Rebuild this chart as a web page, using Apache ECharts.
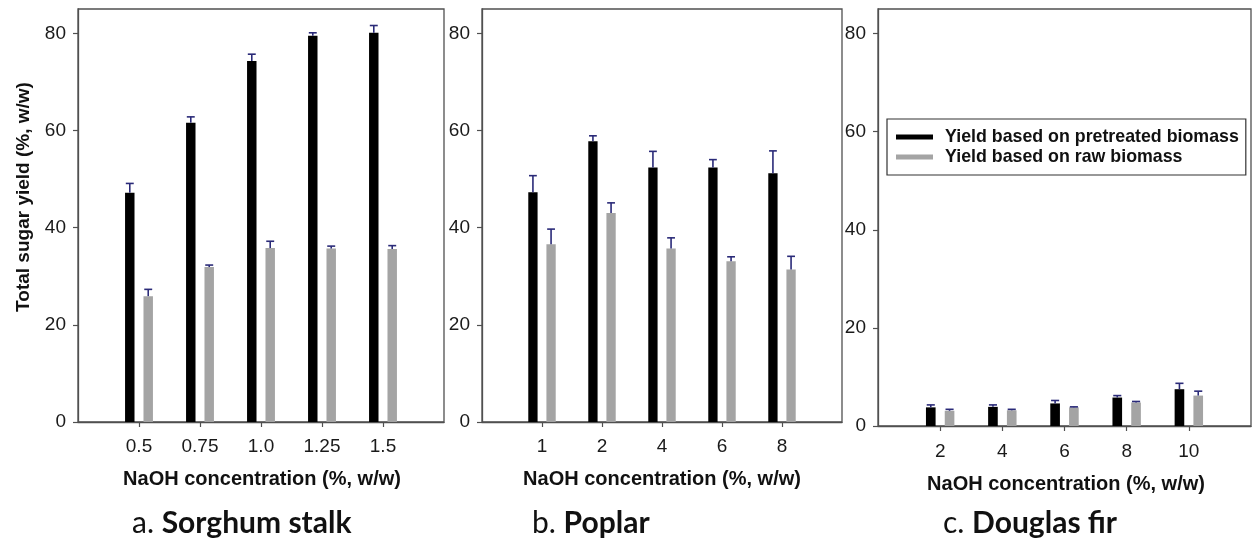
<!DOCTYPE html>
<html>
<head>
<meta charset="utf-8">
<script src="https://cdn.jsdelivr.net/npm/echarts@6/dist/echarts.min.js"></script>
<style>
html,body{margin:0;padding:0;background:#fff;}
#chart{width:1254px;height:544px;}
</style>
</head>
<body>
<div id="chart"></div>
<script>
// ---- data ----
const catsA = ['0.5', '0.75', '1.0', '1.25', '1.5'];
const pretreatedA = [47.2, 61.6, 74.3, 79.5, 80.1];
const pretreatedErrA = [1.9, 1.2, 1.4, 0.6, 1.5];
const rawA = [25.9, 31.9, 35.8, 35.7, 35.6];
const rawErrA = [1.4, 0.4, 1.4, 0.5, 0.7];

const catsB = ['1', '2', '4', '6', '8'];
const pretreatedB = [47.3, 57.8, 52.4, 52.4, 51.2];
const pretreatedErrB = [3.4, 1.1, 3.3, 1.6, 4.6];
const rawB = [36.6, 43.0, 35.7, 33.1, 31.4];
const rawErrB = [3.1, 2.1, 2.2, 0.9, 2.7];

const catsC = ['2', '4', '6', '8', '10'];
const pretreatedC = [3.8, 3.9, 4.6, 5.8, 7.5];
const pretreatedErrC = [0.5, 0.4, 0.6, 0.4, 1.2];
const rawC = [3.1, 3.2, 3.8, 4.8, 6.2];
const rawErrC = [0.3, 0.2, 0.1, 0.2, 0.9];

const yTicks = [0, 20, 40, 60, 80];
const seriesNames = ['Yield based on pretreated biomass', 'Yield based on raw biomass'];
const xTitle = 'NaOH concentration (%, w/w)';
const yTitle = 'Total sugar yield (%, w/w)';
const panelPrefix = ['a. ', 'b. ', 'c. '];
const panelNames = ['Sorghum stalk', 'Poplar', 'Douglas fir'];

// ---- build ----
const panels = [
  {cats: catsA, p: pretreatedA, pe: pretreatedErrA, r: rawA, re: rawErrA,
   grid: {left: 78, top: 9, width: 366, height: 413}, labelMargin: 15},
  {cats: catsB, p: pretreatedB, pe: pretreatedErrB, r: rawB, re: rawErrB,
   grid: {left: 482, top: 9, width: 360, height: 413}, labelMargin: 15},
  {cats: catsC, p: pretreatedC, pe: pretreatedErrC, r: rawC, re: rawErrC,
   grid: {left: 878, top: 9, width: 378, height: 417}, labelMargin: 16}
];

const BAR_FRAC = 0.155;
const BAR_GAP = 0.95;
const BLACK = '#000000';
const GRAY = '#a4a4a4';
const ERR = '#2a2a78';
const AXIS = '#505050';
const LABEL_FONT = 'Liberation Sans, Arial, sans-serif';

function pad(arr) { return [null].concat(arr, [null]); }

const grids = [], xAxes = [], yAxes = [], series = [];

function errRender(side) {
  return function (params, api) {
    const idx = api.value(0), v = api.value(1), e = api.value(2);
    const band = api.size([1, 0])[0];
    const off = side * band * BAR_FRAC * (1 + BAR_GAP) / 2;
    const p0 = api.coord([idx, v]);
    const p1 = api.coord([idx, v + e]);
    const x = p0[0] + off;
    const half = band * BAR_FRAC * 0.42;
    const st = {stroke: ERR, lineWidth: 1.6};
    return {
      type: 'group',
      children: [
        {type: 'line', shape: {x1: x, y1: p0[1], x2: x, y2: p1[1]}, style: st},
        {type: 'line', shape: {x1: x - half, y1: p1[1], x2: x + half, y2: p1[1]}, style: st}
      ]
    };
  };
}

panels.forEach(function (pn, i) {
  grids.push(Object.assign({show: true, borderColor: AXIS, borderWidth: 1.3, containLabel: false}, pn.grid));
  const n = pn.cats.length;
  xAxes.push({
    type: 'category', gridIndex: i, boundaryGap: false,
    data: pad(pn.cats).map(function (c) { return c === null ? '' : c; }),
    axisLine: {lineStyle: {color: AXIS, width: 1.3}},
    axisTick: {show: true, length: 5, lineStyle: {color: AXIS, width: 1.2},
      interval: function (index) { return index > 0 && index <= n; }},
    axisLabel: {interval: 0, margin: pn.labelMargin, fontSize: 19, color: '#1a1a1a', fontFamily: LABEL_FONT},
    splitLine: {show: false}
  });
  yAxes.push({
    type: 'value', gridIndex: i, min: 0, max: 85,
    axisLine: {show: true, lineStyle: {color: AXIS, width: 1.3}},
    axisTick: {show: true, length: 5, lineStyle: {color: AXIS, width: 1.2}, customValues: yTicks},
    axisLabel: {margin: 12, fontSize: 19, color: '#1a1a1a', customValues: yTicks, fontFamily: LABEL_FONT},
    splitLine: {show: false}
  });
  series.push({
    name: seriesNames[0], type: 'bar', xAxisIndex: i, yAxisIndex: i,
    data: pad(pn.p), barWidth: (BAR_FRAC * 100) + '%', barGap: (BAR_GAP * 100) + '%',
    itemStyle: {color: BLACK}, emphasis: {disabled: true}, z: 2
  });
  series.push({
    name: seriesNames[1], type: 'bar', xAxisIndex: i, yAxisIndex: i,
    data: pad(pn.r), barWidth: (BAR_FRAC * 100) + '%', barGap: (BAR_GAP * 100) + '%',
    itemStyle: {color: GRAY}, emphasis: {disabled: true}, z: 2
  });
  series.push({
    type: 'custom', xAxisIndex: i, yAxisIndex: i, z: 3, silent: true,
    renderItem: errRender(-1),
    data: pn.p.map(function (v, k) { return [k + 1, v, pn.pe[k]]; })
  });
  series.push({
    type: 'custom', xAxisIndex: i, yAxisIndex: i, z: 3, silent: true,
    renderItem: errRender(1),
    data: pn.r.map(function (v, k) { return [k + 1, v, pn.re[k]]; })
  });
});

const titleFont = 'bold 20px "Liberation Sans", Arial, sans-serif';
const graphics = [
  {type: 'text', x: 24, y: 197, rotation: Math.PI / 2,
   style: {text: yTitle, font: 'bold 19px "Liberation Sans", Arial, sans-serif', fill: '#111',
     textAlign: 'center', textVerticalAlign: 'middle'}},
  {type: 'text', x: 262, y: 479, style: {text: xTitle, font: titleFont, fill: '#111', textAlign: 'center', textVerticalAlign: 'middle'}},
  {type: 'text', x: 662, y: 479, style: {text: xTitle, font: titleFont, fill: '#111', textAlign: 'center', textVerticalAlign: 'middle'}},
  {type: 'text', x: 1066, y: 484, style: {text: xTitle, font: titleFont, fill: '#111', textAlign: 'center', textVerticalAlign: 'middle'}}
];
const capX = [132, 532, 943];
panelNames.forEach(function (nm, i) {
  graphics.push({
    type: 'text', x: capX[i], y: 523,
    style: {
      text: '{n|' + panelPrefix[i] + '}{b|' + nm + '}',
      textAlign: 'left', textVerticalAlign: 'middle',
      rich: {
        n: {fontFamily: 'Lato, "Open Sans", sans-serif', fontSize: 30, fontWeight: 'normal', fill: '#111'},
        b: {fontFamily: 'Lato, "Open Sans", sans-serif', fontSize: 30, fontWeight: 'bold', fill: '#111'}
      }
    }
  });
});

const chart = echarts.init(document.getElementById('chart'), null, {renderer: 'canvas'});
chart.setOption({
  backgroundColor: '#ffffff',
  animation: false,
  grid: grids,
  xAxis: xAxes,
  yAxis: yAxes,
  series: series,
  legend: {
    data: seriesNames,
    orient: 'vertical',
    left: 887, top: 119,
    padding: [9, 7, 9, 9],
    borderColor: '#333', borderWidth: 1.2,
    backgroundColor: '#fff',
    icon: 'rect', itemWidth: 37, itemHeight: 5, itemGap: 2,
    selectedMode: false,
    textStyle: {fontSize: 17.8, fontWeight: 'bold', color: '#111', lineHeight: 18,
      fontFamily: LABEL_FONT, padding: [0, 0, 0, 7]}
  },
  graphic: graphics
});
</script>
</body>
</html>
